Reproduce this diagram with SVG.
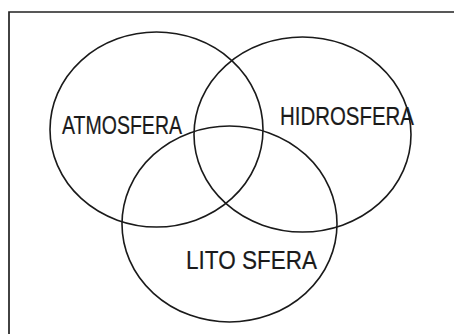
<svg xmlns="http://www.w3.org/2000/svg" width="454" height="334" viewBox="0 0 454 334">
  <style>
    .ring { fill: none; stroke: #1a1a1a; stroke-width: 1.6; }
    .frame { fill: none; stroke: #222; stroke-width: 1.7; }
    .label { font-family: "Liberation Sans", Arial, sans-serif; font-size: 25px; fill: #1a1a1a; stroke: #1a1a1a; stroke-width: 0.2; }
  </style>
  <rect width="454" height="334" fill="#ffffff"/>
  <!-- frame: top and left edges -->
  <path class="frame" d="M9,335 V12 H455"/>
  <g id="connectors"/>
  <g id="atmosfera">
    <ellipse class="ring" cx="156.5" cy="129.5" rx="106.5" ry="97.5"/>
    <text class="label" x="62" y="134" textLength="120" lengthAdjust="spacingAndGlyphs">ATMOSFERA</text>
  </g>
  <g id="hidrosfera">
    <ellipse class="ring" cx="302.5" cy="134.5" rx="108.5" ry="97.5"/>
    <text class="label" x="280" y="125" textLength="134" lengthAdjust="spacingAndGlyphs">HIDROSFERA</text>
  </g>
  <g id="litosfera">
    <ellipse class="ring" cx="229.5" cy="224" rx="107.5" ry="98"/>
    <text class="label" x="186" y="269" textLength="131" lengthAdjust="spacingAndGlyphs">LITO SFERA</text>
  </g>
</svg>
